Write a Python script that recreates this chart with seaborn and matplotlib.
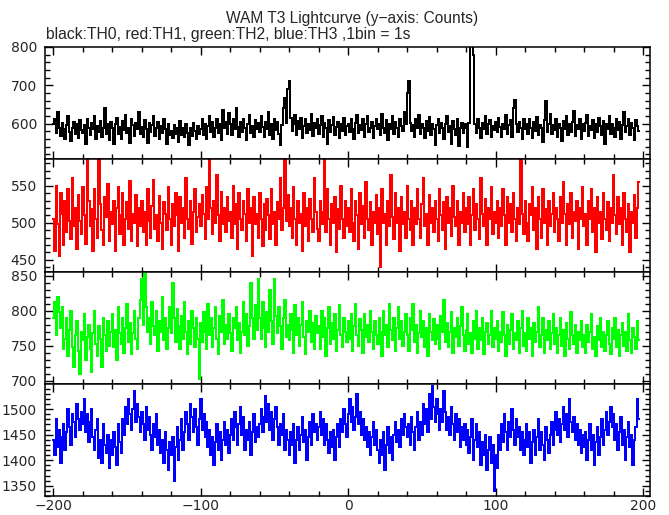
import numpy as np
import pandas as pd
import matplotlib
matplotlib.use("Agg")
import matplotlib.pyplot as plt
import seaborn as sns
from matplotlib.ticker import MultipleLocator

time_start = -200
time_end = 197

th0 = [
600,612,575,630,590,568,602,585,560,597,620,578,555,590,605,572,598,563,610,584,
575,596,548,612,588,570,603,585,621,560,594,579,607,566,590,640,572,598,558,605,
588,547,600,615,573,592,560,606,583,622,575,590,551,612,596,568,601,587,630,574,
592,566,610,585,550,603,578,596,620,569,588,604,561,593,577,612,585,548,599,571,
580,562,597,574,589,553,606,571,588,565,598,576,545,590,568,603,582,559,595,574,
586,612,570,598,560,593,620,578,604,566,589,612,575,600,557,636,590,605,572,628,
598,570,612,585,640,592,566,605,579,613,588,558,600,622,575,594,566,610,585,603,
578,620,592,566,604,587,630,571,598,560,612,583,605,573,545,596,640,668,602,690,
711,615,580,598,622,570,606,586,615,562,595,611,575,600,583,625,569,602,588,612,
574,596,620,565,602,588,548,610,578,597,618,570,592,605,563,599,582,614,571,595,
600,578,612,587,560,603,622,575,596,584,611,566,598,620,579,590,605,562,594,613,
585,600,571,626,590,575,610,558,599,586,620,572,604,589,565,612,595,580,630,598,
680,711,603,580,596,565,612,588,624,574,600,590,562,606,582,618,570,598,587,545,
596,612,575,603,588,560,598,620,579,594,548,606,585,570,612,542,590,603,575,598,
588,540,602,810,815,780,598,575,612,590,564,603,585,620,572,598,610,566,594,583,
605,578,615,592,566,600,585,622,574,596,610,565,640,662,600,578,604,590,560,612,
586,598,574,612,590,563,605,581,618,570,596,588,552,610,658,578,600,625,572,596,
583,612,566,600,590,555,607,586,620,571,598,578,604,632,569,596,586,612,560,600,
580,603,622,569,595,584,610,562,598,578,615,593,570,606,548,600,587,620,574,598,
590,566,612,584,604,560,597,630,578,595,612,570,603,588,558,610,593,580]

th1 = [
505,462,550,498,455,540,512,470,530,488,545,503,478,560,495,520,465,538,502,485,
548,510,472,590,530,495,518,462,545,505,480,600,525,490,470,535,508,552,475,515,
498,530,462,520,548,485,510,540,470,505,528,492,556,475,512,500,538,468,520,495,
530,488,515,470,545,502,480,522,558,492,510,475,536,500,465,528,512,490,548,505,
470,525,495,540,510,462,535,500,520,480,560,505,492,530,472,515,545,488,508,525,
495,538,512,478,548,505,590,520,485,530,500,565,510,475,542,498,520,488,535,502,
515,480,550,498,525,465,540,505,490,530,512,475,545,500,520,455,535,498,512,480,
540,505,468,525,490,532,510,478,545,498,515,470,528,505,560,490,520,585,502,538,
495,520,480,548,505,470,530,500,512,462,540,495,520,475,532,505,488,560,515,492,
475,530,498,515,600,488,545,505,470,525,500,535,460,518,492,550,505,480,530,495,
520,488,545,500,475,530,510,465,540,498,522,480,555,505,490,528,470,515,500,538,
485,520,440,545,500,512,470,530,495,565,508,478,540,500,520,462,535,498,515,480,
550,505,490,530,470,520,498,545,505,480,525,560,495,512,470,538,500,520,488,530,
505,475,545,510,490,528,465,535,500,520,482,550,508,495,530,470,515,500,540,488,
520,498,535,470,510,545,490,525,505,478,560,512,495,532,470,520,505,548,485,515,
500,530,480,520,495,545,510,470,535,500,525,488,540,505,475,520,498,590,512,485,
530,500,475,525,510,548,490,520,465,535,505,480,545,500,518,470,530,495,512,540,
488,520,505,475,535,500,555,512,470,525,498,540,480,515,502,530,465,520,505,548,
495,512,470,530,505,545,488,520,460,535,500,515,478,540,505,490,528,475,520,500,
565,510,485,535,498,520,470,540,505,488,525,460,515,500,538,480,520,555]

th2 = [
790,812,765,820,798,775,805,745,760,790,735,772,800,748,720,765,785,742,710,770,
758,795,730,762,780,745,712,768,800,752,735,778,760,720,790,765,742,785,750,770,
795,748,772,730,805,768,752,790,740,776,810,755,782,738,768,800,760,745,790,815,
845,780,856,805,770,790,752,812,778,765,800,742,785,770,820,758,790,745,775,805,
768,840,790,755,802,778,745,792,760,812,770,738,785,752,800,775,748,790,760,702,
782,755,798,770,745,810,765,790,748,775,805,760,738,792,770,815,752,780,760,795,
768,742,790,775,805,758,782,740,770,812,765,795,750,778,840,790,760,808,772,845,
790,760,812,775,748,798,770,830,785,752,845,792,768,805,778,745,790,815,762,780,
758,795,772,740,808,765,790,750,780,812,762,738,785,770,800,755,782,745,792,768,
778,745,800,762,790,735,775,805,752,782,760,795,742,772,808,765,748,790,770,755,
785,760,795,742,778,810,765,750,788,772,740,795,762,780,755,800,770,745,785,765,
752,790,770,735,800,765,780,748,810,772,758,790,742,775,805,760,785,750,770,795,
765,742,790,772,810,755,780,740,768,800,762,785,748,775,735,795,770,758,788,752,
780,760,745,792,770,815,755,782,748,770,798,740,775,762,790,750,778,805,765,742,
772,795,752,768,740,785,760,800,745,775,758,790,738,770,782,752,765,800,748,775,
760,785,742,770,755,798,765,735,780,752,772,795,745,768,758,785,740,775,800,750,
768,742,790,760,775,735,782,755,770,805,748,765,790,740,772,758,785,745,768,795,
752,775,740,765,790,750,772,735,782,760,745,798,765,752,780,740,770,758,785,748,
765,740,780,755,770,795,745,762,735,778,758,790,748,770,742,765,785,752,738,775,
760,790,748,772,735,765,782,750,770,742,795,758,740,775,762,745,785,758]

th3 = [
1440,1410,1480,1425,1460,1395,1445,1470,1420,1455,1500,1465,1430,1490,1475,1445,1510,1480,1460,1495,
1470,1520,1455,1490,1435,1475,1500,1445,1420,1460,1480,1405,1440,1395,1470,1430,1415,1450,1385,1440,
1410,1455,1425,1390,1470,1435,1415,1480,1450,1505,1470,1520,1490,1460,1500,1535,1475,1510,1485,1455,
1495,1470,1440,1505,1460,1485,1450,1420,1470,1445,1490,1430,1460,1415,1440,1395,1455,1420,1380,1435,
1410,1445,1360,1425,1465,1400,1440,1480,1420,1455,1495,1470,1440,1510,1485,1455,1500,1465,1430,1480,
1520,1460,1490,1445,1475,1425,1460,1410,1445,1390,1435,1470,1420,1455,1400,1440,1475,1430,1460,1415,
1450,1480,1440,1495,1465,1430,1470,1505,1450,1485,1420,1460,1440,1475,1410,1455,1490,1435,1465,1445,
1470,1500,1455,1485,1525,1475,1510,1460,1495,1440,1480,1505,1465,1430,1470,1450,1490,1420,1460,1440,
1410,1455,1430,1470,1395,1440,1465,1420,1450,1485,1435,1460,1400,1445,1475,1430,1490,1455,1470,1440,
1465,1495,1450,1480,1430,1470,1440,1415,1455,1425,1460,1400,1445,1470,1425,1480,1455,1500,1470,1445,
1490,1520,1475,1505,1460,1485,1530,1470,1495,1450,1480,1440,1465,1425,1455,1410,1445,1475,1430,1460,
1420,1395,1440,1410,1455,1380,1430,1465,1415,1445,1400,1450,1475,1435,1460,1425,1480,1450,1490,1465,
1445,1470,1430,1485,1455,1420,1465,1495,1440,1475,1450,1510,1470,1500,1455,1530,1480,1545,1505,1475,
1520,1490,1460,1500,1475,1535,1495,1460,1485,1450,1505,1470,1440,1490,1455,1480,1425,1465,1440,1470,
1430,1460,1415,1445,1480,1400,1440,1470,1425,1455,1390,1435,1410,1450,1380,1420,1445,1395,1430,1340,
1410,1385,1450,1420,1470,1435,1490,1455,1420,1475,1445,1500,1460,1430,1480,1445,1465,1420,1455,1410,
1440,1470,1425,1455,1395,1435,1460,1410,1445,1480,1420,1455,1430,1400,1465,1440,1415,1450,1475,1430,
1460,1495,1450,1480,1435,1470,1505,1460,1490,1445,1520,1475,1455,1485,1440,1470,1430,1460,1415,1450,
1425,1455,1400,1440,1470,1420,1450,1390,1435,1465,1410,1445,1480,1430,1460,1495,1450,1475,1505,1465,
1490,1440,1470,1420,1455,1485,1430,1460,1400,1445,1475,1425,1450,1390,1440,1465,1520,1480]

series_names = ["TH0", "TH1", "TH2", "TH3"]
series_values = [th0, th1, th2, th3]
series_colors = ["black", "red", "#00ff00", "blue"]
y_limits = [(508, 800), (434, 586), (695, 856), (1330, 1549)]
y_major = [100, 50, 50, 50]
y_minor = [20, 10, 10, 10]
x_ticks = [-200, -100, 0, 100, 200]

title_text = "WAM T3 Lightcurve (y\u2212axis: Counts)"
subtitle_text = "black:TH0, red:TH1, green:TH2, blue:TH3 ,1bin = 1s"

sns.set_style("ticks")
plt.rcParams["font.family"] = ["DejaVu Sans"]

fig = plt.figure(figsize=(6.69, 5.15), dpi=100)
W, H = 669, 515
left_px, right_px = 45.3, 650
panel_edges = [47, 159, 271.7, 384, 496]

time = np.arange(time_start, time_end + 1)
axes = []
for i, (name, vals, col) in enumerate(zip(series_names, series_values, series_colors)):
    top = panel_edges[i]
    bot = panel_edges[i + 1]
    ax = fig.add_axes([left_px / W, 1 - bot / H, (right_px - left_px) / W, (bot - top) / H])
    df = pd.DataFrame({"time": time, "counts": vals})
    sns.lineplot(data=df, x="time", y="counts", ax=ax, color=col, lw=1.15,
                 drawstyle="steps-mid", estimator=None, legend=False,
                 antialiased=False)
    ax.set_xlim(-205.5, 204.6)
    ax.set_ylim(*y_limits[i])
    ax.set_xlabel("")
    ax.set_ylabel("")
    ax.xaxis.set_major_locator(plt.FixedLocator(x_ticks))
    ax.xaxis.set_minor_locator(MultipleLocator(20))
    ax.yaxis.set_major_locator(MultipleLocator(y_major[i]))
    ax.yaxis.set_minor_locator(MultipleLocator(y_minor[i]))
    ax.tick_params(which="both", direction="in", top=True, right=True, width=1.0, color="black")
    ax.tick_params(which="major", length=6)
    ax.tick_params(which="minor", length=3.5)
    ax.tick_params(axis="y", which="major", labelsize=10, pad=6)
    ax.tick_params(axis="x", which="major", labelsize=10, pad=2)
    for s in ax.spines.values():
        s.set_linewidth(1.1)
        s.set_color("black")
    if i < 3:
        ax.tick_params(axis="x", labelbottom=False)
    else:
        ax.set_xticklabels([f"{t}".replace("-", "\u2212") for t in x_ticks])
    axes.append(ax)

fig.text(352 / W, 1 - 18 / H, title_text, ha="center", va="center", fontsize=11.2,
         family="Liberation Sans")
fig.text(46 / W, 1 - 35 / H, subtitle_text, ha="left", va="center", fontsize=11.3,
         family="Liberation Sans")

fig.savefig("out.png", dpi=100)
